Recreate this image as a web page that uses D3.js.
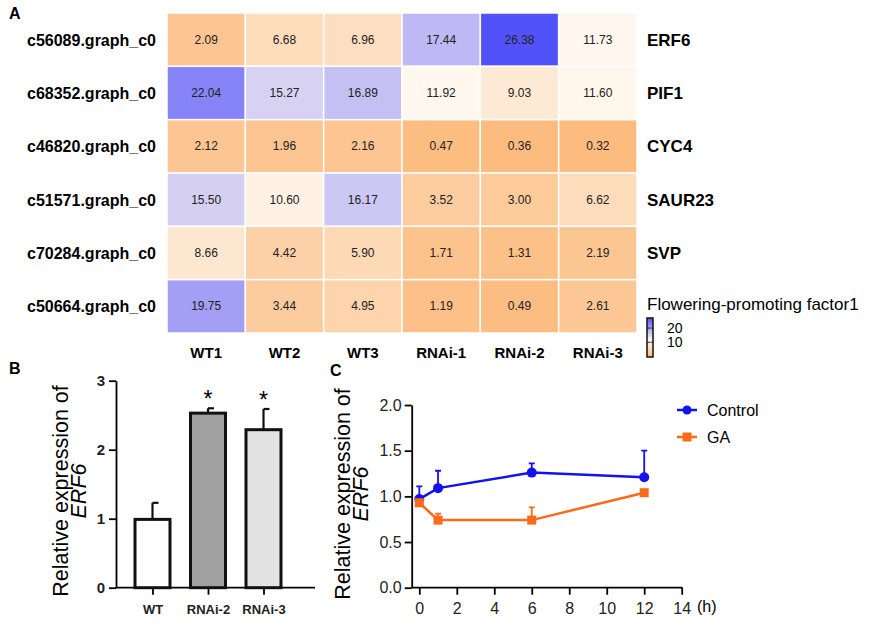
<!DOCTYPE html>
<html>
<head>
<meta charset="utf-8">
<script src="https://cdn.jsdelivr.net/npm/d3@7"></script>
<style>
  body { margin: 0; background: #fff; }
  svg { font-family: "Liberation Sans", Arial, sans-serif; display: block; }
</style>
</head>
<body>
<svg id="fig" width="872" height="622"></svg>
<script>
"use strict";

// ---- panel A data ----
var rowIds = ["c56089.graph_c0", "c68352.graph_c0", "c46820.graph_c0",
              "c51571.graph_c0", "c70284.graph_c0", "c50664.graph_c0"];
var genes = ["ERF6", "PIF1", "CYC4", "SAUR23", "SVP", ""];
var samples = ["WT1", "WT2", "WT3", "RNAi-1", "RNAi-2", "RNAi-3"];
var expr = [
  [2.09, 6.68, 6.96, 17.44, 26.38, 11.73],
  [22.04, 15.27, 16.89, 11.92, 9.03, 11.60],
  [2.12, 1.96, 2.16, 0.47, 0.36, 0.32],
  [15.50, 10.60, 16.17, 3.52, 3.00, 6.62],
  [8.66, 4.42, 5.90, 1.71, 1.31, 2.19],
  [19.75, 3.44, 4.95, 1.19, 0.49, 2.61]
];
var legendTicks = [10, 20];

// ---- panel B data ----
var barGroups = ["WT", "RNAi-2", "RNAi-3"];
var barMeans = [0.99, 2.53, 2.29];
var barErr = [0.24, 0.07, 0.30];
var barStars = ["", "*", "*"];
var barFills = ["#ffffff", "#a0a0a0", "#e2e2e2"];
var barTicks = [0, 1, 2, 3];

// ---- panel C data ----
var hours = [0, 1, 6, 12];
var controlMean = [0.97, 1.09, 1.26, 1.21];
var controlErr = [0.14, 0.19, 0.10, 0.29];
var gaMean = [0.93, 0.74, 0.74, 1.04];
var gaErr = [0.0, 0.07, 0.14, 0.0];
var hourTicks = [0, 2, 4, 6, 8, 10, 12, 14];
var lineTicks = [0, 0.5, 1.0, 1.5, 2.0];

var svg = d3.select("#fig");

function panelLabel(txt, x, y) {
  svg.append("text").attr("x", x).attr("y", y)
    .attr("font-size", 16).attr("font-weight", "bold").text(txt);
}

// ================= A: heatmap =================
panelLabel("A", 9, 19);

var hx = d3.scaleBand().domain(samples).range([167, 637]);
var hy = d3.scaleBand().domain(rowIds).range([13, 333]);
var color = d3.scaleLinear()
  .domain([0.32, 12, 26.38])
  .range(["#fcbc80", "#fff8f0", "#5252fa"]);

var rows = svg.append("g").selectAll("g").data(expr).join("g")
  .attr("transform", function(d, i) { return "translate(0," + hy(rowIds[i]) + ")"; });

rows.selectAll("rect").data(function(d) { return d; }).join("rect")
  .attr("x", function(d, j) { return hx(samples[j]); })
  .attr("width", hx.bandwidth())
  .attr("height", hy.bandwidth())
  .attr("fill", function(d) { return color(d); })
  .attr("stroke", "#fff").attr("stroke-width", 1.5);

rows.selectAll("text").data(function(d) { return d; }).join("text")
  .attr("x", function(d, j) { return hx(samples[j]) + hx.bandwidth() / 2; })
  .attr("y", hy.bandwidth() / 2 + 4)
  .attr("text-anchor", "middle").attr("font-size", 12).attr("fill", "#222")
  .text(function(d) { return d.toFixed(2); });

svg.append("g").selectAll("text").data(rowIds).join("text")
  .attr("x", 156).attr("y", function(d) { return hy(d) + hy.bandwidth() / 2 + 6; })
  .attr("text-anchor", "end").attr("font-size", 16).attr("font-weight", "bold")
  .text(function(d) { return d; });

svg.append("g").selectAll("text").data(genes).join("text")
  .attr("x", 647).attr("y", function(d, i) { return hy(rowIds[i]) + hy.bandwidth() / 2 + 6; })
  .attr("font-size", 17).attr("font-weight", "bold")
  .text(function(d) { return d; });

svg.append("g").selectAll("text").data(samples).join("text")
  .attr("x", function(d) { return hx(d) + hx.bandwidth() / 2; })
  .attr("y", 358)
  .attr("text-anchor", "middle").attr("font-size", 15).attr("font-weight", "bold")
  .text(function(d) { return d; });

// colour legend
svg.append("text").attr("x", 647).attr("y", 310).attr("font-size", 17)
  .text("Flowering-promoting factor1");

var ly = d3.scaleLinear().domain([0.32, 26.38]).range([356, 319]);
var grad = svg.append("defs").append("linearGradient").attr("id", "lg")
  .attr("x1", 0).attr("x2", 0).attr("y1", 1).attr("y2", 0);
grad.selectAll("stop").data(color.domain()).join("stop")
  .attr("offset", function(d) { return (d - 0.32) / (26.38 - 0.32); })
  .attr("stop-color", function(d) { return color(d); });
svg.append("rect").attr("x", 647).attr("y", 318).attr("width", 6).attr("height", 39)
  .attr("fill", "url(#lg)").attr("stroke", "#111").attr("stroke-width", 1.5);
var lt = svg.append("g").selectAll("g").data(legendTicks).join("g")
  .attr("transform", function(d) { return "translate(0," + ly(d) + ")"; });
lt.append("line").attr("x1", 647).attr("x2", 650).attr("stroke", "#222");
lt.append("line").attr("x1", 650.5).attr("x2", 653).attr("stroke", "#222");
lt.append("text").attr("x", 667).attr("y", 5).attr("font-size", 14)
  .text(function(d) { return d; });

// ================= B: bar chart =================
panelLabel("B", 9, 374);

var by = d3.scaleLinear().domain([0, 3]).range([587.7, 380.7]);
var bx = d3.scalePoint().domain(barGroups).range([124.75, 291.25]).padding(0.5);
var barW = 35;

var gB = svg.append("g");
gB.append("g").attr("transform", "translate(116,0)")
  .call(d3.axisLeft(by).tickValues(barTicks).tickFormat(d3.format("d")).tickSize(7).tickSizeOuter(0))
  .call(function(g) {
    g.select(".domain").attr("stroke-width", 1.8);
    g.selectAll(".tick line").attr("stroke-width", 1.8);
    g.selectAll("text").attr("font-size", 15).attr("font-weight", "bold")
      .attr("font-family", "Liberation Sans, Arial, sans-serif").attr("fill", "#222").attr("dx", "-1");
  });
gB.append("g").attr("transform", "translate(0,587.7)")
  .call(d3.axisBottom(bx).tickSize(7).tickSizeOuter(0))
  .call(function(g) {
    g.select(".domain").attr("d", "M116,0H315").attr("stroke-width", 1.8);
    g.selectAll(".tick line").attr("stroke-width", 1.8);
    g.selectAll("text").attr("font-size", 13).attr("font-weight", "bold")
      .attr("font-family", "Liberation Sans, Arial, sans-serif").attr("fill", "#222").attr("dy", "1.25em");
  });

var bars = gB.append("g").selectAll("g").data(barGroups).join("g");
bars.append("line")
  .attr("x1", function(d) { return bx(d); }).attr("x2", function(d) { return bx(d); })
  .attr("y1", function(d, i) { return by(barMeans[i]); })
  .attr("y2", function(d, i) { return by(barMeans[i] + barErr[i]); })
  .attr("stroke", "#111").attr("stroke-width", 2.2);
bars.append("line")
  .attr("x1", function(d) { return bx(d); }).attr("x2", function(d) { return bx(d) + 6; })
  .attr("y1", function(d, i) { return by(barMeans[i] + barErr[i]); })
  .attr("y2", function(d, i) { return by(barMeans[i] + barErr[i]); })
  .attr("stroke", "#111").attr("stroke-width", 2.2);
bars.append("rect")
  .attr("x", function(d) { return bx(d) - barW / 2; })
  .attr("y", function(d, i) { return by(barMeans[i]); })
  .attr("width", barW)
  .attr("height", function(d, i) { return by(0) - by(barMeans[i]); })
  .attr("fill", function(d, i) { return barFills[i]; })
  .attr("stroke", "#111").attr("stroke-width", 3);
bars.append("text")
  .attr("x", function(d) { return bx(d); })
  .attr("y", function(d, i) { return by(barMeans[i] + barErr[i]) - 1; })
  .attr("text-anchor", "middle").attr("font-size", 23)
  .text(function(d, i) { return barStars[i]; });

var tB = svg.append("text").attr("transform", "translate(68,491) rotate(-90)")
  .attr("text-anchor", "middle").attr("font-size", 21.5);
tB.append("tspan").attr("x", 0).attr("y", 0).text("Relative expression of");
tB.append("tspan").attr("x", 0).attr("y", 17.5).attr("font-style", "italic").text("ERF6");

// ================= C: time course =================
panelLabel("C", 330, 376);

var cx = d3.scaleLinear().domain([0, 14]).range([419.3, 681.7]);
var cy = d3.scaleLinear().domain([0, 2]).range([587.7, 405]);

var gC = svg.append("g");
gC.append("g").attr("transform", "translate(411.7,0)")
  .call(d3.axisLeft(cy).tickValues(lineTicks).tickFormat(d3.format(".1f")).tickSize(7).tickSizeOuter(0))
  .call(function(g) {
    g.select(".domain").attr("stroke-width", 1.8);
    g.selectAll(".tick line").attr("stroke-width", 1.8);
    g.selectAll("text").attr("font-size", 16)
      .attr("font-family", "Liberation Sans, Arial, sans-serif").attr("fill", "#222");
  });
gC.append("g").attr("transform", "translate(0,587.7)")
  .call(d3.axisBottom(cx).tickValues(hourTicks).tickSize(7).tickSizeOuter(0))
  .call(function(g) {
    g.select(".domain").attr("d", "M411.7,0H682.5").attr("stroke-width", 1.8);
    g.selectAll(".tick line").attr("stroke-width", 1.8);
    g.selectAll("text").attr("font-size", 16)
      .attr("font-family", "Liberation Sans, Arial, sans-serif").attr("fill", "#222").attr("dy", "1.0em");
  });
svg.append("text").attr("x", 697).attr("y", 612).attr("font-size", 16).text("(h)");

var series = [
  { name: "Control", mean: controlMean, err: controlErr, col: "#1212ee", shape: "circle" },
  { name: "GA", mean: gaMean, err: gaErr, col: "#fb6a19", shape: "square" }
];

var line = d3.line()
  .x(function(d) { return cx(d[0]); })
  .y(function(d) { return cy(d[1]); });

series.forEach(function(s) {
  var pts = hours.map(function(h, i) { return [h, s.mean[i], s.err[i]]; });
  var g = gC.append("g");
  g.selectAll(".eb").data(pts.filter(function(p) { return p[2] > 0; })).join("path")
    .attr("d", function(p) {
      return "M" + cx(p[0]) + "," + cy(p[1]) + "V" + cy(p[1] + p[2]) +
        "M" + (cx(p[0]) - 3) + "," + cy(p[1] + p[2]) + "H" + (cx(p[0]) + 3);
    })
    .attr("stroke", s.col).attr("stroke-width", 1.8).attr("fill", "none");
  g.append("path").datum(pts).attr("d", line)
    .attr("fill", "none").attr("stroke", s.col).attr("stroke-width", 2.5);
  if (s.shape === "circle") {
    g.selectAll("circle").data(pts).join("circle")
      .attr("cx", function(p) { return cx(p[0]); }).attr("cy", function(p) { return cy(p[1]); })
      .attr("r", 5).attr("fill", s.col);
  } else {
    g.selectAll("rect").data(pts).join("rect")
      .attr("x", function(p) { return cx(p[0]) - 4.5; }).attr("y", function(p) { return cy(p[1]) - 4.5; })
      .attr("width", 9).attr("height", 9).attr("fill", s.col);
  }
});

// legend for C
var leg = svg.append("g").selectAll("g").data(series).join("g")
  .attr("transform", function(d, i) { return "translate(677," + (410 + i * 27) + ")"; });
leg.append("line").attr("x1", 0).attr("x2", 20)
  .attr("stroke", function(d) { return d.col; }).attr("stroke-width", 2.5);
leg.filter(function(d) { return d.shape === "circle"; }).append("circle")
  .attr("cx", 10).attr("r", 4.5).attr("fill", function(d) { return d.col; });
leg.filter(function(d) { return d.shape === "square"; }).append("rect")
  .attr("x", 5.5).attr("y", -4.5).attr("width", 9).attr("height", 9)
  .attr("fill", function(d) { return d.col; });
leg.append("text").attr("x", 30).attr("y", 6).attr("font-size", 16)
  .text(function(d) { return d.name; });

var tC = svg.append("text").attr("transform", "translate(350,494) rotate(-90)")
  .attr("text-anchor", "middle").attr("font-size", 21.5);
tC.append("tspan").attr("x", 0).attr("y", 0).text("Relative expression of");
tC.append("tspan").attr("x", 0).attr("y", 17.5).attr("font-style", "italic").text("ERF6");
</script>
</body>
</html>
